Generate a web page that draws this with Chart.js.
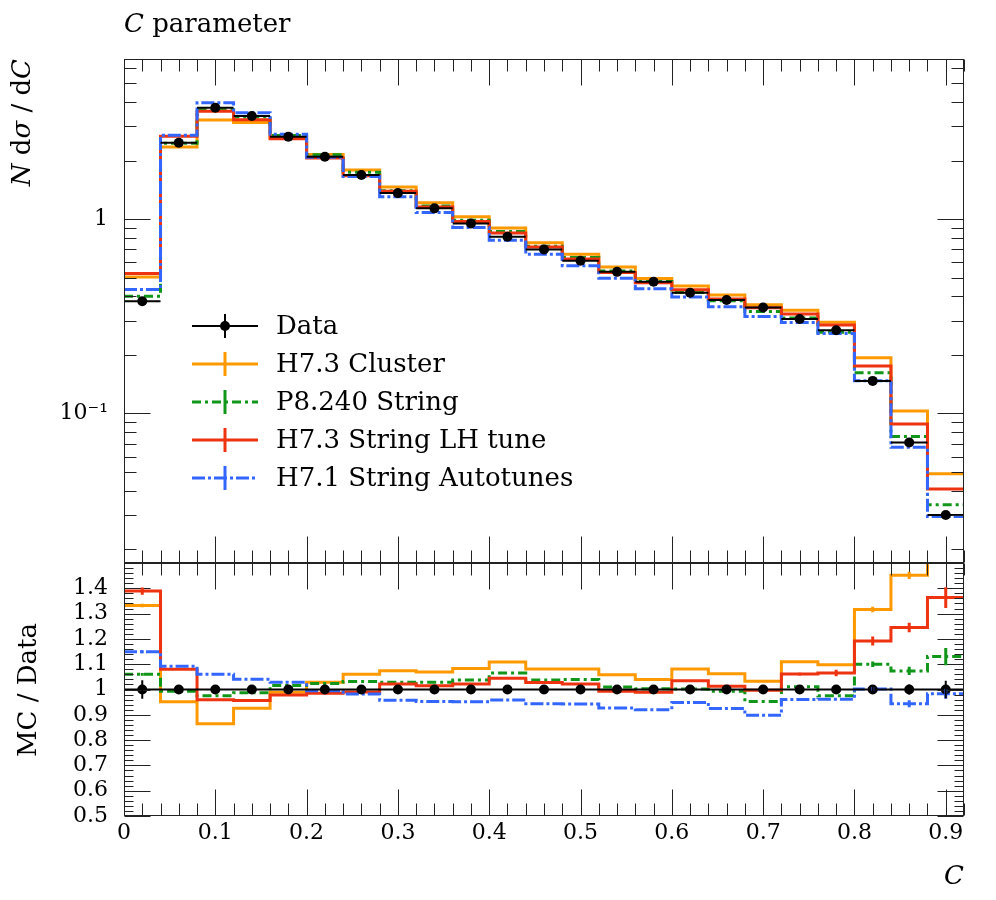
<!DOCTYPE html>
<html><head><meta charset="utf-8">
<script src="https://cdn.jsdelivr.net/npm/chart.js@4.4.1/dist/chart.umd.min.js"></script>
<style>
body{margin:0;background:#fff;width:996px;height:900px;position:relative;overflow:hidden;font-family:'DejaVu Serif';}
canvas{position:absolute;left:0;top:0;}
.t{position:absolute;font-family:'DejaVu Serif';font-size:26px;color:#000;white-space:nowrap;line-height:30px;}
</style></head><body>
<canvas id="cTop" width="996" height="900"></canvas>
<canvas id="cBot" width="996" height="900"></canvas>
<div class="t" style="left:124px;top:8px;"><i>C</i> parameter</div>
<div class="t" style="left:-89px;top:154px;width:220px;height:30px;text-align:right;transform:rotate(-90deg);"><i>N</i> d<i>σ</i> / d<i>C</i></div>
<div class="t" style="left:-83px;top:675px;width:220px;height:30px;text-align:center;transform:rotate(-90deg);">MC / Data</div>
<div class="t" style="left:864px;top:860px;width:100px;text-align:right;"><i>C</i></div>
<script>
// ---------- data ----------
const binEdges = [0, 0.04, 0.08, 0.12, 0.16, 0.2, 0.24, 0.28, 0.32, 0.36, 0.4, 0.44, 0.48, 0.52, 0.56, 0.6, 0.64, 0.68, 0.72, 0.76, 0.8, 0.84, 0.88, 0.92];
const dataVals = [0.378, 2.47, 3.74, 3.39, 2.65, 2.09, 1.685, 1.36, 1.135, 0.95, 0.811, 0.698, 0.610, 0.535, 0.476, 0.418, 0.383, 0.351, 0.306, 0.268, 0.147, 0.0709, 0.0300];
const dataRelErr = [0.037, 0.01, 0.01, 0.01, 0.01, 0.01, 0.01, 0.01, 0.01, 0.01, 0.01, 0.01, 0.01, 0.01, 0.01, 0.01, 0.012, 0.012, 0.012, 0.015, 0.015, 0.02, 0.035];
const h73Cluster = [0.5035, 2.351, 3.235, 3.139, 2.621, 2.149, 1.786, 1.461, 1.214, 1.029, 0.899, 0.7545, 0.6594, 0.566, 0.495, 0.4519, 0.4067, 0.3626, 0.3397, 0.2943, 0.1935, 0.1029, 0.0489];
const p8240String = [0.4007, 2.453, 3.647, 3.346, 2.692, 2.140, 1.739, 1.399, 1.168, 0.986, 0.8637, 0.7245, 0.6344, 0.5404, 0.4774, 0.4188, 0.3803, 0.3345, 0.3094, 0.2613, 0.1617, 0.0761, 0.0339];
const h73StringLH = [0.525, 2.668, 3.590, 3.244, 2.592, 2.059, 1.668, 1.390, 1.152, 0.971, 0.8467, 0.7175, 0.6234, 0.5313, 0.4708, 0.4326, 0.388, 0.350, 0.3247, 0.2854, 0.1752, 0.0883, 0.0409];
const h71StringAuto = [0.4343, 2.697, 3.964, 3.526, 2.727, 2.080, 1.655, 1.302, 1.081, 0.904, 0.7777, 0.6589, 0.5752, 0.4959, 0.4379, 0.3967, 0.3543, 0.3152, 0.2938, 0.2578, 0.1473, 0.0669, 0.0295];
const errCluster = [0.005, 0, 0, 0, 0, 0, 0, 0, 0, 0, 0, 0, 0, 0, 0, 0, 0, 0, 0, 0, 0.008, 0.01, 0.03];
const errP8 = [0.005, 0, 0, 0, 0, 0, 0, 0, 0, 0, 0, 0, 0, 0, 0, 0, 0, 0, 0, 0, 0.01, 0.015, 0.03];
const errLH = [0.01, 0, 0, 0, 0, 0, 0, 0, 0, 0, 0, 0, 0, 0, 0, 0, 0, 0, 0.005, 0.012, 0.015, 0.015, 0.03];
const errAuto = [0.005, 0, 0, 0, 0, 0, 0, 0, 0, 0, 0, 0, 0, 0, 0, 0, 0, 0, 0, 0, 0.008, 0.015, 0.02];
const seriesLabels = ['Data', 'H7.3 Cluster', 'P8.240 String', 'H7.3 String LH tune', 'H7.1 String Autotunes'];
const xTickValues = [0, 0.1, 0.2, 0.3, 0.4, 0.5, 0.6, 0.7, 0.8, 0.9];
const xTickLabels = ['0', '0.1', '0.2', '0.3', '0.4', '0.5', '0.6', '0.7', '0.8', '0.9'];
const topYTickValues = [0.1, 1];
const topYTickLabels = ['10\u207B\u00B9', '1'];
const ratioTickValues = [0.5, 0.6, 0.7, 0.8, 0.9, 1.0, 1.1, 1.2, 1.3, 1.4];
const ratioTickLabels = ['0.5', '0.6', '0.7', '0.8', '0.9', '1', '1.1', '1.2', '1.3', '1.4'];

// ---------- styles ----------
const FONT = 'DejaVu Serif';
const C_OR = '#FF9900', C_GR = '#109618', C_RD = '#EE3311', C_BL = '#3366FF';
const DASH_GR = [9, 4, 3, 4], DASH_BL = [13, 3, 3, 3];

function stepPoints(v){const p=[];v.forEach((y,i)=>{p.push({x:binEdges[i],y});p.push({x:binEdges[i+1],y});});return p;}
function segPoints(v){const p=[];v.forEach((y,i)=>{p.push({x:binEdges[i],y});p.push({x:binEdges[i+1],y});p.push({x:binEdges[i+1],y:null});});return p;}
function centers(v){return v.map((y,i)=>({x:(binEdges[i]+binEdges[i+1])/2,y}));}
function ratio(v){return v.map((y,i)=>y/dataVals[i]);}

function lineDs(label,vals,color,dash,order){
  return {label,data:stepPoints(vals),borderColor:color,borderWidth:3,borderDash:dash,pointRadius:0,fill:false,tension:0,order,borderJoinStyle:'miter',borderCapStyle:'butt'};
}
function dataDs(vals){
  return [
    {label:'Data',data:segPoints(vals),borderColor:'#000',borderWidth:2,pointRadius:0,fill:false,order:0,spanGaps:false},
    {label:'DataPts',data:centers(vals),showLine:false,pointRadius:5,pointBackgroundColor:'#000',pointBorderWidth:0,order:0}
  ];
}

const frameTicks = {
  id:'frameTicks',
  afterDatasetsDraw(chart, args, o){
    const {ctx, chartArea:a, scales:{x:xs, y:ys}} = chart;
    ctx.save();
    ctx.strokeStyle = '#222'; ctx.lineWidth = 1; ctx.setLineDash([]);
    const L = Math.round(a.left)+0.5, R = Math.round(a.right)-0.5, T = Math.round(a.top)+0.5, B = Math.round(a.bottom)-0.5;
    ctx.strokeRect(L, T, R-L, B-T);
    ctx.beginPath();
    // x ticks
    for (let i=0;i<=46;i++){
      const v = i*0.02; const major = (i%5===0);
      const px = Math.round(xs.getPixelForValue(v))+0.5;
      const len = major ? o.xMaj : o.xMin;
      ctx.moveTo(px,B); ctx.lineTo(px,B-len);
      ctx.moveTo(px,T); ctx.lineTo(px,T+len);
    }
    // y ticks
    o.yTicks.forEach(t=>{
      const v=t[0], len = t[1] ? o.yMaj : o.yMin;
      const py = Math.round(ys.getPixelForValue(v))+0.5;
      if (py < T-1 || py > B+1) return;
      ctx.moveTo(L,py); ctx.lineTo(L+len,py);
      ctx.moveTo(R,py); ctx.lineTo(R-len,py);
    });
    ctx.stroke();
    ctx.restore();
  }
};

const errBars = {
  id:'errBars',
  afterDatasetsDraw(chart, args, o){
    const {ctx, chartArea:a, scales:{x:xs, y:ys}} = chart;
    ctx.save();
    ctx.beginPath(); ctx.rect(a.left,a.top,a.right-a.left,a.bottom-a.top); ctx.clip();
    o.list.forEach(s=>{
      ctx.strokeStyle = s.color; ctx.lineWidth = s.width; ctx.setLineDash([]);
      ctx.beginPath();
      s.vals.forEach((v,i)=>{
        const e = s.errs[i]; if (!e) return;
        const xc = xs.getPixelForValue((binEdges[i]+binEdges[i+1])/2);
        ctx.moveTo(xc, ys.getPixelForValue(v*(1-e)));
        ctx.lineTo(xc, ys.getPixelForValue(v*(1+e)));
      });
      ctx.stroke();
    });
    ctx.restore();
  }
};

const legendPlugin = {
  id:'customLegend',
  afterDraw(chart, args, o){
    if (!o.rows) return;
    const ctx = chart.ctx;
    ctx.save();
    o.rows.forEach((r,i)=>{
      const y = 326 + i*38;
      ctx.strokeStyle = r.color; ctx.lineWidth = r.width; ctx.setLineDash(r.dash);
      ctx.beginPath(); ctx.moveTo(192,y); ctx.lineTo(258,y); ctx.stroke();
      ctx.setLineDash([]);
      ctx.beginPath(); ctx.moveTo(225,y-12); ctx.lineTo(225,y+12); ctx.stroke();
      if (r.dot){ ctx.fillStyle=r.color; ctx.beginPath(); ctx.arc(225,y,5,0,Math.PI*2); ctx.fill(); }
      ctx.fillStyle = '#000'; ctx.font = '26px "'+FONT+'"'; ctx.textBaseline='middle'; ctx.textAlign='left';
      ctx.fillText(r.label, 276, y+1);
    });
    ctx.restore();
  }
};

const tickFont = {family:FONT, size:22};

// log minor ticks for top panel
const topYTicks = [];
[0.01,0.1,1].forEach(d=>{for(let k=1;k<=9;k++){topYTicks.push([k*d, k===1]);}});
const ratioYTicks = [];
for (let i=0;i<=50;i++){ ratioYTicks.push([0.5+i*0.02, i%5===0]); }

// ---------- top chart ----------
new Chart(document.getElementById('cTop'), {
  type:'line',
  data:{datasets:[
    lineDs(seriesLabels[1], h73Cluster, C_OR, [], 4),
    lineDs(seriesLabels[2], p8240String, C_GR, DASH_GR, 3),
    lineDs(seriesLabels[3], h73StringLH, C_RD, [], 2),
    lineDs(seriesLabels[4], h71StringAuto, C_BL, DASH_BL, 1),
    ...dataDs(dataVals)
  ]},
  options:{
    responsive:false, animation:false, devicePixelRatio:1,
    layout:{padding:{top:59,right:32,bottom:337,left:0}},
    plugins:{legend:{display:false},tooltip:{enabled:false},
      frameTicks:{xMaj:26,xMin:12,yMaj:26,yMin:12,yTicks:topYTicks},
      errBars:{list:[{vals:dataVals,errs:dataRelErr,color:'#000',width:2}]},
      customLegend:{rows:[
        {label:seriesLabels[0],color:'#000',width:2,dash:[],dot:true},
        {label:seriesLabels[1],color:C_OR,width:3,dash:[]},
        {label:seriesLabels[2],color:C_GR,width:3,dash:DASH_GR},
        {label:seriesLabels[3],color:C_RD,width:3,dash:[]},
        {label:seriesLabels[4],color:C_BL,width:3,dash:DASH_BL}
      ]}
    },
    scales:{
      x:{type:'linear',min:0,max:0.92,display:false},
      y:{type:'logarithmic',min:0.017,max:6.66,
        grid:{display:false,drawTicks:false},border:{display:false},
        afterBuildTicks(s){s.ticks = topYTickValues.map(v=>({value:v}));},
        afterFit(s){s.width = 124;},
        ticks:{font:tickFont,color:'#000',padding:16,autoSkip:false,callback:(v,i)=>topYTickLabels[i]}
      }
    }
  },
  plugins:[frameTicks, errBars, legendPlugin]
});

// ---------- ratio chart ----------
const rCluster = ratio(h73Cluster), rP8 = ratio(p8240String), rLH = ratio(h73StringLH), rAuto = ratio(h71StringAuto);
const ones = dataVals.map(v=>v/v);
new Chart(document.getElementById('cBot'), {
  type:'line',
  data:{datasets:[
    lineDs(seriesLabels[1], rCluster, C_OR, [], 4),
    lineDs(seriesLabels[2], rP8, C_GR, DASH_GR, 3),
    lineDs(seriesLabels[3], rLH, C_RD, [], 2),
    lineDs(seriesLabels[4], rAuto, C_BL, DASH_BL, 1),
    ...dataDs(ones)
  ]},
  options:{
    responsive:false, animation:false, devicePixelRatio:1,
    layout:{padding:{top:563,right:32,bottom:0,left:0}},
    plugins:{legend:{display:false},tooltip:{enabled:false},
      frameTicks:{xMaj:26,xMin:12,yMaj:26,yMin:9,yTicks:ratioYTicks},
      errBars:{list:[
        {vals:rCluster,errs:errCluster,color:C_OR,width:3},
        {vals:rP8,errs:errP8,color:C_GR,width:3},
        {vals:rLH,errs:errLH,color:C_RD,width:3},
        {vals:rAuto,errs:errAuto,color:C_BL,width:3},
        {vals:ones,errs:dataRelErr,color:'#000',width:2}
      ]}
    },
    scales:{
      x:{type:'linear',min:0,max:0.92,
        grid:{display:false,drawTicks:false},border:{display:false},
        afterBuildTicks(s){s.ticks = xTickValues.map(v=>({value:v}));},
        afterFit(s){s.height = 84;},
        ticks:{font:tickFont,color:'#000',padding:4,autoSkip:false,maxRotation:0,callback:(v,i)=>xTickLabels[i]}
      },
      y:{type:'linear',min:0.5,max:1.5,
        grid:{display:false,drawTicks:false},border:{display:false},
        afterBuildTicks(s){s.ticks = ratioTickValues.map(v=>({value:v}));},
        afterFit(s){s.width = 124;},
        ticks:{font:tickFont,color:'#000',padding:16,autoSkip:false,callback:(v,i)=>ratioTickLabels[i]}
      }
    }
  },
  plugins:[frameTicks, errBars]
});
</script>
</body></html>
